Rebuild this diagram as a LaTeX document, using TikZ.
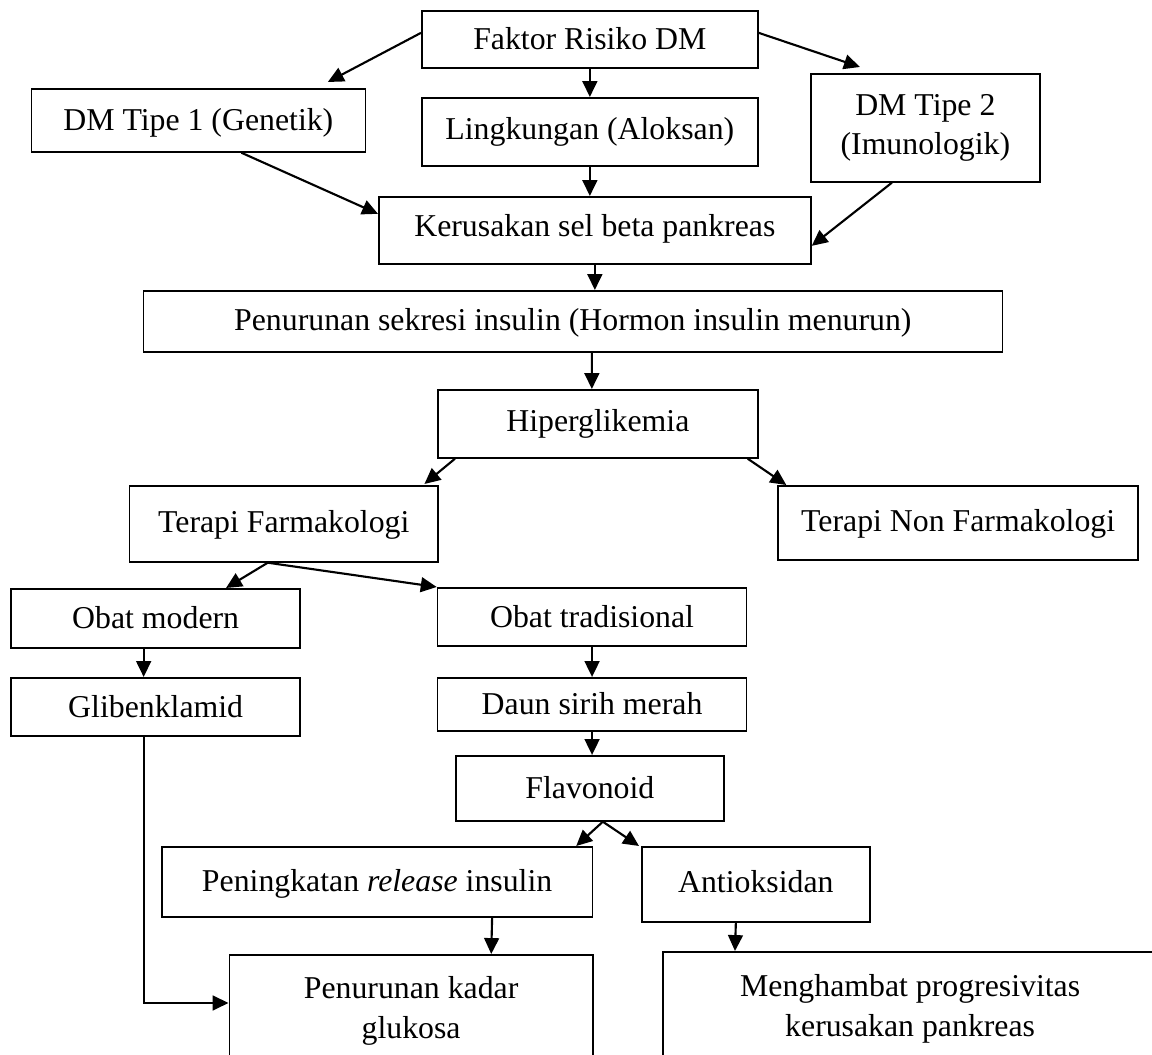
\documentclass[tikz,border=0pt]{standalone}
\usepackage{fontspec}
\setmainfont{Liberation Serif}
\usetikzlibrary{arrows.meta,calc}
\newcommand{\pxu}{0.3774pt}
\tikzset{
  kotak/.style={draw,line width=0.65pt,inner sep=0pt,text height=7.9pt,text depth=0pt,anchor=north west},
  kotakdua/.style={draw,line width=0.65pt,inner sep=0pt,align=center,anchor=north west},
  ukuran/.style 2 args={minimum width=#1*\pxu,minimum height=#2*\pxu},
  panah/.style={-{Triangle[length=6pt,width=5.6pt]},line width=0.8pt}
}
\begin{document}
\begin{tikzpicture}[x=\pxu,y=-\pxu,font=\fontsize{12}{15}\selectfont]
        \useasboundingbox (0,0) rectangle (1152,1055);
        \clip (0,0) rectangle (1152,1055);
        \node[kotak,ukuran={336}{57}] (faktor) at (421,10) {Faktor Risiko DM};
        \node[kotak,ukuran={334}{63}] (dmsatu) at (30.5,88) {DM Tipe 1 (Genetik)};
        \node[kotak,ukuran={336}{68},text depth=2pt] (lingkungan) at (421,97) {Lingkungan (Aloksan)};
        \node[kotakdua,ukuran={229}{108}] (dmdua) at (810,73) {DM Tipe 2\\(Imunologik)};
        \node[kotak,ukuran={432}{67},text depth=3pt] (kerusakan) at (378,196) {Kerusakan sel beta pankreas};
        \node[kotak,ukuran={859}{61},text depth=1pt] (sekresi) at (142.5,290) {Penurunan sekresi insulin (Hormon insulin menurun)};
        \node[kotak,ukuran={320}{68},text depth=2pt] (hiper) at (437,389) {Hiperglikemia};
        \node[kotak,ukuran={308.6}{76},text depth=1pt] (farmako) at (128.6,485) {Terapi Farmakologi};
        \node[kotak,ukuran={360}{74},text depth=1pt] (nonfarmako) at (777.3,485) {Terapi Non Farmakologi};
        \node[kotak,ukuran={289}{59}] (modern) at (10.3,588) {Obat modern};
        \node[kotak,ukuran={309}{58}] (tradisional) at (436.7,587) {Obat tradisional};
        \node[kotak,ukuran={289}{58}] (gliben) at (10.3,677) {Glibenklamid};
        \node[kotak,ukuran={309}{53}] (sirih) at (436.7,677) {Daun sirih merah};
        \node[kotak,ukuran={268}{65}] (flavonoid) at (455,755) {Flavonoid};
        \node[kotak,ukuran={430.5}{70},text depth=0.5pt] (release) at (161,846) {Peningkatan \textit{release} insulin};
        \node[kotak,ukuran={228}{75},text depth=2pt] (antioksidan) at (641,846) {Antioksidan};
        \node[kotakdua,ukuran={363.5}{112}] (kadar) at (228.5,954) {Penurunan kadar\\glukosa};
        \node[kotakdua,ukuran={494}{114}] (hambat) at (662.3,951) {Menghambat progresivitas\\kerusakan pankreas};
        \foreach \a/\b in {faktor/lingkungan,lingkungan/kerusakan,kerusakan/sekresi,tradisional/sirih,sirih/flavonoid}
          \draw[panah] (\a.south) -- (\a.south |- \b.north);
        \draw[panah] ($(faktor.west)+(0,-6.5)$) -- ($(dmsatu.north)+(129.5,-6)$);
        \draw[panah] ($(faktor.east)+(0,-6.5)$) -- ($(dmdua.north)+(-65.5,-6)$);
        \draw[panah] ($(dmsatu.south)+(43,0)$) -- ($(kerusakan.west)+(0,-16.5)$);
        \draw[panah] ($(dmdua.south)+(-33.5,0)$) -- ($(kerusakan.east)+(0,15.5)$);
        \draw[panah] ($(sekresi.south)+(19,0)$) -- ($(hiper.north)+(-6,0)$);
        \draw[panah] ($(hiper.south west)+(18,0)$) -- ($(farmako.north east)+(-14.5,-1)$);
        \draw[panah] ($(hiper.south east)+(-11,0)$) -- ($(nonfarmako.north west)+(9,0)$);
        \draw[panah] ($(farmako.south)+(-16,0)$) -- ($(modern.north east)+(-75,0)$);
        \draw[panah] ($(farmako.south)+(-16,0)$) -- (tradisional.north west);
        \draw[panah] ($(modern.south)+(-12,0)$) -- ($(gliben.north)+(-12,0)$);
        \draw[panah] ($(flavonoid.south)+(13,0)$) -- ($(release.north east)+(-17,0)$);
        \draw[panah] ($(flavonoid.south)+(13,0)$) -- ($(antioksidan.north west)+(-2,0)$);
        \draw[panah] ($(release.south)+(115,0)$) -- ($(kadar.north west)+(262.75,0)$);
        \draw[panah] ($(gliben.south)+(-12,0)$) |- ($(kadar.north west)+(0,49)$);
        \draw[panah] ($(antioksidan.south)+(-20,0)$) -- ($(hambat.north west)+(72.7,0)$);
      \end{tikzpicture}
\end{document}
